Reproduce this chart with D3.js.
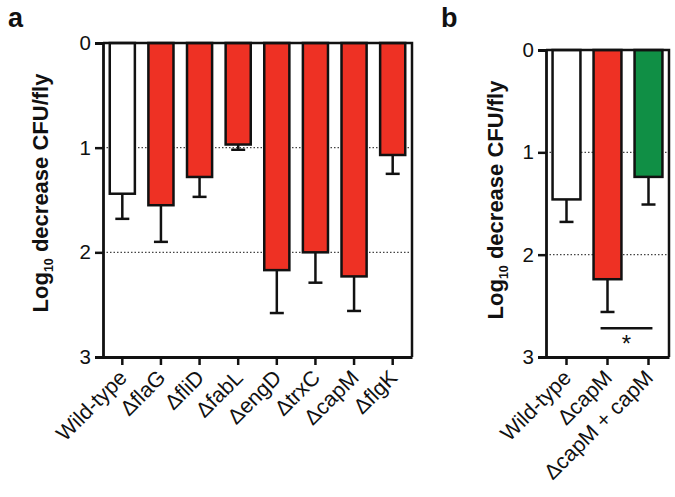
<!DOCTYPE html>
<html><head><meta charset="utf-8">
<script src="https://cdn.jsdelivr.net/npm/d3@7"></script>
<style>body{margin:0;background:#fff}svg{display:block;font-family:"Liberation Sans",Arial,sans-serif}</style>
</head><body>
<svg id="c" width="675" height="497"></svg>
<script>
const catsA = ["Wild-type", "flaG", "fliD", "fabL", "engD", "trxC", "capM", "flgK"];
const meanA = [1.44, 1.55, 1.28, 0.97, 2.17, 2.0, 2.23, 1.07];
const errA  = [0.24, 0.35, 0.19, 0.05, 0.41, 0.29, 0.33, 0.18];
const colA  = ["white", "red", "red", "red", "red", "red", "red", "red"];

const catsB = ["Wild-type", "capM", "capM + capM"];
const meanB = [1.46, 2.24, 1.24];
const errB  = [0.22, 0.32, 0.27];
const colB  = ["white", "red", "green"];

const yTicks = [0, 1, 2, 3];
const gridLines = [1, 2];
const fills = {white: "#ffffff", red: "#ee3124", green: "#108f45"};

const svg = d3.select("#c");

function panel(opt) {
  const {cats, mean, err, col, x0, x1, y0, y1, pin, pout, labelX, labelY, letter, letterX, labelFn} = opt;
  const x = d3.scaleBand().domain(cats).range([x0, x1]).paddingInner(pin).paddingOuter(pout);
  const y = d3.scaleLinear().domain([0, 3]).range([y0, y1]);
  const g = svg.append("g");
  g.selectAll(".grid").data(gridLines).enter().append("line")
    .attr("x1", x0).attr("x2", x1).attr("y1", d => y(d)).attr("y2", d => y(d))
    .attr("stroke", "#444").attr("stroke-width", 1.2).attr("stroke-dasharray", "1.5,2");
  cats.forEach((c, i) => {
    const cx = x(c) + x.bandwidth() / 2;
    g.append("line").attr("x1", cx).attr("x2", cx).attr("y1", y(mean[i])).attr("y2", y(mean[i] + err[i]))
      .attr("stroke", "#111").attr("stroke-width", 2.5);
    g.append("line").attr("x1", cx - 7).attr("x2", cx + 7).attr("y1", y(mean[i] + err[i])).attr("y2", y(mean[i] + err[i]))
      .attr("stroke", "#111").attr("stroke-width", 2.5);
  });
  g.selectAll(".bar").data(cats).enter().append("rect")
    .attr("x", d => x(d)).attr("width", x.bandwidth())
    .attr("y", y(0)).attr("height", (d, i) => y(mean[i]) - y(0))
    .attr("fill", (d, i) => fills[col[i]]).attr("stroke", "#111").attr("stroke-width", 2.5);
  g.append("path").attr("d", `M${x0},${y0}H${x1}V${y1}`).attr("fill", "none").attr("stroke", "#111").attr("stroke-width", 2.5);
  const ya = g.append("g").attr("transform", `translate(${x0},0)`)
    .call(d3.axisLeft(y).tickValues(yTicks).tickFormat(d3.format("d")).tickSize(8).tickPadding(4));
  ya.select(".domain").attr("stroke", "#111").attr("stroke-width", 2.8);
  ya.selectAll(".tick line").attr("stroke", "#111").attr("stroke-width", 2.5);
  ya.selectAll(".tick text").attr("font-size", 20.5).attr("fill", "#111").attr("font-family", "Liberation Sans, Arial, sans-serif");
  const xa = g.append("g").attr("transform", `translate(0,${y1})`)
    .call(d3.axisBottom(x).tickSize(8).tickSizeOuter(0).tickFormat(""));
  xa.select(".domain").attr("stroke", "#111").attr("stroke-width", 2.8);
  xa.selectAll(".tick line").attr("stroke", "#111").attr("stroke-width", 2.5);
  cats.forEach((c, i) => {
    const cx = x(c) + x.bandwidth() / 2;
    const t = g.append("text").attr("transform", `translate(${cx + 6},${y1 + 22}) rotate(-45)`)
      .attr("text-anchor", "end").attr("font-size", 21.5).attr("fill", "#111");
    labelFn(t, c, i);
  });
  const yl = g.append("text").attr("transform", `translate(${labelX},${labelY}) rotate(-90)`)
    .attr("text-anchor", "middle").attr("font-size", 22).attr("font-weight", "bold").attr("fill", "#111");
  yl.append("tspan").text("Log");
  yl.append("tspan").text("10").attr("font-size", 12.5).attr("dy", 5);
  yl.append("tspan").text(" decrease CFU/fly").attr("dy", -5);
  svg.append("text").attr("x", letterX).attr("y", 27).attr("font-size", 27).attr("font-weight", "bold").attr("fill", "#111").text(letter);
  return {x, y, g};
}

const delta = "\u0394";
panel({cats: catsA, mean: meanA, err: errA, col: colA, x0: 103, x1: 412, y0: 43, y1: 357,
  pin: 0.35, pout: 0.175, labelX: 48, labelY: 193, letter: "a", letterX: 8,
  labelFn: (t, c, i) => { t.text(i === 0 ? c : delta + c); }});

const pb = panel({cats: catsB, mean: meanB, err: errB, col: colB, x0: 546, x1: 669, y0: 50, y1: 357,
  pin: 0.32, pout: 0.16, labelX: 503, labelY: 200, letter: "b", letterX: 441,
  labelFn: (t, c, i) => { t.text(i === 0 ? c : delta + c); }});

const sx1 = pb.x("capM") + 7, sx2 = pb.x("capM + capM") + pb.x.bandwidth() - 10;
pb.g.append("line").attr("x1", sx1).attr("x2", sx2).attr("y1", pb.y(2.72)).attr("y2", pb.y(2.72))
  .attr("stroke", "#111").attr("stroke-width", 2.5);
pb.g.append("text").attr("x", (sx1 + sx2) / 2).attr("y", pb.y(2.95)).attr("text-anchor", "middle")
  .attr("font-size", 24).attr("fill", "#111").text("*");
</script>
</body></html>
